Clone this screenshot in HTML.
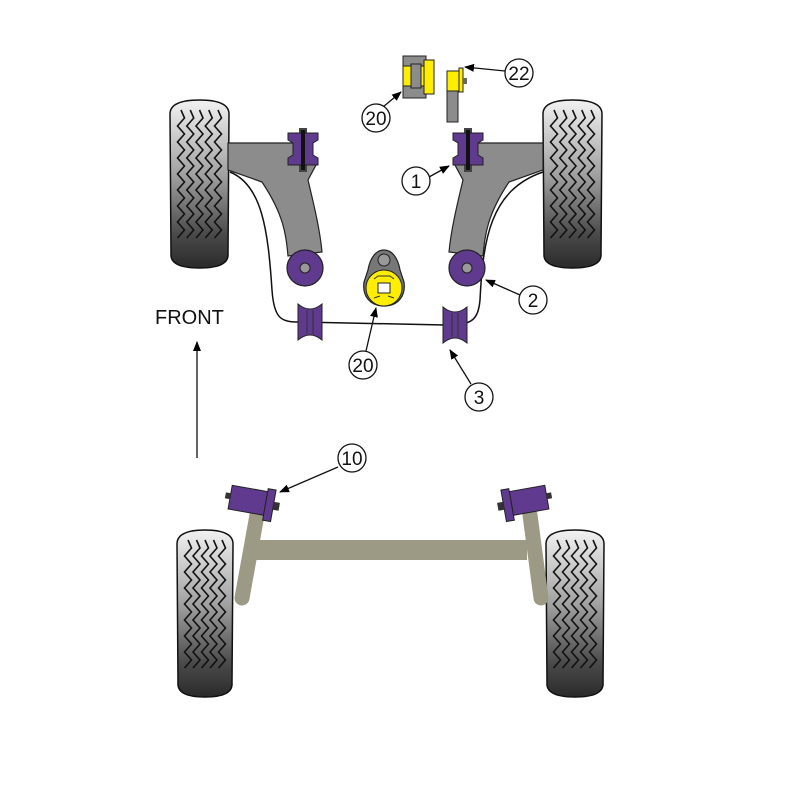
<!DOCTYPE html>
<html><head><meta charset="utf-8"><style>
html,body{margin:0;padding:0;background:#fff}
svg{display:block}
text{font-family:"Liberation Sans",sans-serif}
</style></head><body>
<svg id="s" width="800" height="800" viewBox="0 0 800 800" xmlns="http://www.w3.org/2000/svg">
<defs>
<linearGradient id="tg" x1="0" y1="0" x2="0" y2="1">
<stop offset="0" stop-color="#f2f2f2"/><stop offset="0.45" stop-color="#a0a0a0"/><stop offset="0.8" stop-color="#4a4a4a"/><stop offset="1" stop-color="#2a2a2a"/>
</linearGradient>
<marker id="ah" markerWidth="10" markerHeight="8" refX="9" refY="4" orient="auto" markerUnits="userSpaceOnUse">
<path d="M0,0 L10,4 L0,8 Z" fill="#000"/></marker>
</defs>
<g id="wheels"></g>

<path d="M228,143 L300,143 L316,165 L308,180 C314,205 320,230 322,252 L288,256 C286,235 284,215 262,182 L228,170 Z" fill="#8c8c8c" stroke="#222" stroke-width="1.2"/>
<path d="M543,143 L471,143 L455,165 L463,180 C457,205 451,230 449,252 L483,256 C485,235 487,215 509,182 L543,170 Z" fill="#8c8c8c" stroke="#222" stroke-width="1.2"/>

<path d="M230,172 C262,185 268,230 272,290 C274,320 282,322 300,322 L445,325 C470,325 478,322 480,300 C483,240 490,190 543,172" fill="none" stroke="#111" stroke-width="1.5"/>

<g id="tb"></g>

<circle cx="305" cy="268" r="18" fill="#5f3a8e" stroke="#222" stroke-width="1.2"/>
<circle cx="305" cy="268" r="5" fill="#999" stroke="#222"/>
<circle cx="467" cy="268" r="18" fill="#5f3a8e" stroke="#222" stroke-width="1.2"/>
<circle cx="467" cy="268" r="5" fill="#999" stroke="#222"/>

<g id="hb"></g>

<path d="M384,250 C392,250 398,258 400,270 L404,282 C406,296 398,306 384,306 C370,306 362,296 364,282 L368,270 C370,258 376,250 384,250 Z" fill="#777" stroke="#222" stroke-width="1.2"/>
<circle cx="384" cy="260" r="6" fill="#999" stroke="#222"/>
<circle cx="384" cy="288" r="18" fill="#ffee00" stroke="#222" stroke-width="1"/>
<rect x="378" y="283" width="12" height="10" fill="#fff" stroke="#222"/>
<path d="M374,279 L378,276 L390,276 L394,279 M374,298 L380,296 M394,298 L388,296" stroke="#333" fill="none"/>

<rect x="403" y="56" width="23" height="42" fill="#8c8c8c" stroke="#222"/>
<rect x="403" y="66" width="23" height="20" fill="#ffee00" stroke="#222"/>
<rect x="411" y="64" width="10" height="24" fill="#8c8c8c" stroke="#222"/>
<rect x="424" y="60" width="10" height="34" fill="#ffee00" stroke="#222"/>
<rect x="447" y="90" width="11" height="32" fill="#8c8c8c" stroke="#222"/>
<rect x="447" y="71" width="13" height="20" fill="#ffee00" stroke="#222"/>
<rect x="459" y="68" width="4" height="24" fill="#ffee00" stroke="#222"/>
<rect x="463" y="78" width="4" height="6" fill="#666"/>

<rect x="252" y="540" width="275" height="20" fill="#9c9a85"/>
<line x1="257" y1="515" x2="242" y2="598" stroke="#9c9a85" stroke-width="15" stroke-linecap="round"/>
<line x1="530" y1="515" x2="541" y2="598" stroke="#9c9a85" stroke-width="15" stroke-linecap="round"/>
<g transform="translate(252,500) rotate(10)">
<rect x="-22" y="-11" width="36" height="24" fill="#5f3a8e" stroke="#222"/>
<rect x="14" y="-14" width="8" height="32" fill="#5f3a8e" stroke="#222"/>
<rect x="-27" y="-3" width="5" height="6" fill="#333"/><rect x="22" y="-2" width="6" height="8" fill="#333"/>
</g>
<g transform="translate(525,500) rotate(-10)">
<rect x="-14" y="-11" width="36" height="24" fill="#5f3a8e" stroke="#222"/>
<rect x="-22" y="-14" width="8" height="32" fill="#5f3a8e" stroke="#222"/>
<rect x="22" y="-3" width="5" height="6" fill="#333"/><rect x="-28" y="-2" width="6" height="8" fill="#333"/>
</g>

<g stroke="#111" stroke-width="1.3" fill="none">
<line x1="429" y1="177" x2="449" y2="166" marker-end="url(#ah)"/>
<line x1="520" y1="295" x2="486" y2="280" marker-end="url(#ah)"/>
<line x1="471" y1="384" x2="450" y2="350" marker-end="url(#ah)"/>
<line x1="383" y1="107" x2="401" y2="92" marker-end="url(#ah)"/>
<line x1="505" y1="71" x2="465" y2="67" marker-end="url(#ah)"/>
<line x1="366" y1="351" x2="376" y2="308" marker-end="url(#ah)"/>
<line x1="338" y1="467" x2="280" y2="492" marker-end="url(#ah)"/>
<line x1="197" y1="458" x2="197" y2="342" marker-end="url(#ah)"/>
</g>
<g fill="#fff" stroke="#111" stroke-width="1.3">
<circle cx="416" cy="181" r="14"/><circle cx="533" cy="300" r="14"/><circle cx="479" cy="397" r="14"/>
<circle cx="376" cy="118" r="14"/><circle cx="519" cy="73" r="14"/><circle cx="363" cy="365" r="14"/><circle cx="352" cy="458" r="14"/>
</g>
<g font-size="19" text-anchor="middle" fill="#111">
<text x="416" y="188">1</text><text x="533" y="307">2</text><text x="479" y="404">3</text>
<text x="376" y="125">20</text><text x="519" y="80">22</text><text x="363" y="372">20</text><text x="352" y="465">10</text>
</g>
<text x="155" y="324" font-size="20" fill="#111">FRONT</text>
</svg>
<script>
var NS="http://www.w3.org/2000/svg";
function el(p,t,a){var e=document.createElementNS(NS,t);for(var k in a)e.setAttribute(k,a[k]);p.appendChild(e);return e;}
var W=document.getElementById("wheels");
function wheel(x,y,w,h){
 el(W,"path",{d:"M"+x+","+(y+14)+" Q"+x+","+y+" "+(x+w/2)+","+y+" Q"+(x+w)+","+y+" "+(x+w)+","+(y+14)+" L"+(x+w-1)+","+(y+h-14)+" Q"+(x+w)+","+(y+h)+" "+(x+w/2)+","+(y+h)+" Q"+x+","+(y+h)+" "+(x+1)+","+(y+h-14)+" Z",fill:"url(#tg)",stroke:"#111","stroke-width":1.5});
 for(var i=0;i<5;i++){var cx=x+11+i*(w-22)/4;var d="M"+cx+","+(y+10);var yy=y+10,s=1;
  while(yy<y+h-32){yy+=8;d+=" L"+(cx+3.5*s)+","+yy;s=-s;}
  el(W,"path",{d:d,fill:"none",stroke:"#111","stroke-width":1.6});}
}
wheel(170,100,59,168);wheel(543,100,59,168);wheel(177,530,56,167);wheel(546,530,58,167);
var T=document.getElementById("tb");
[303,468].forEach(function(c){
 el(T,"rect",{x:c-4,y:128,width:8,height:44,fill:"#444"});
 el(T,"path",{d:"M"+(c-15)+",133 L"+(c+15)+",133 L"+(c+15)+",140 L"+(c+10)+",143 L"+(c+10)+",155 L"+(c+15)+",158 L"+(c+15)+",165 L"+(c-15)+",165 L"+(c-15)+",158 L"+(c-10)+",155 L"+(c-10)+",143 L"+(c-15)+",140 Z",fill:"#5f3a8e",stroke:"#222"});
 el(T,"rect",{x:c-2,y:130,width:4,height:40,fill:"#111"});
});
var H=document.getElementById("hb");
[[310,322],[455,325]].forEach(function(p){var x=p[0],y=p[1];
 el(H,"path",{d:"M"+(x-12)+","+(y-18)+" Q"+x+","+(y-8)+" "+(x+12)+","+(y-18)+" L"+(x+12)+","+(y+18)+" Q"+x+","+(y+8)+" "+(x-12)+","+(y+18)+" Z",fill:"#5f3a8e",stroke:"#222"});
 el(H,"line",{x1:x-3,y1:y-12,x2:x-3,y2:y+12,stroke:"#333"});el(H,"line",{x1:x+3,y1:y-12,x2:x+3,y2:y+12,stroke:"#333"});
});
</script>
</body></html>
